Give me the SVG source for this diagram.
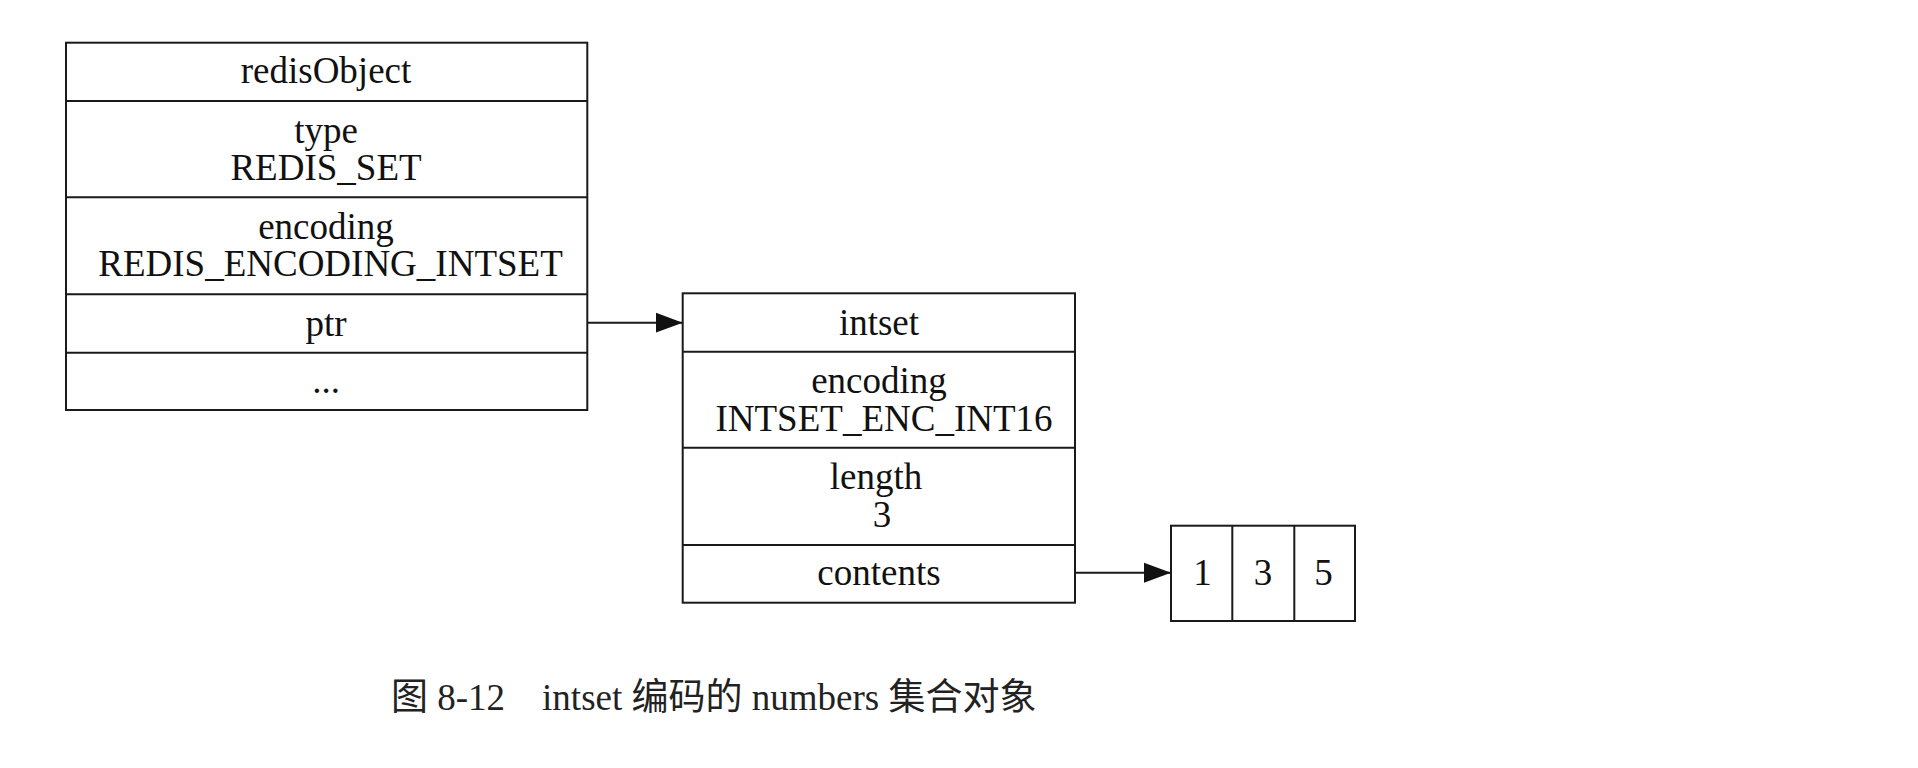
<svg xmlns="http://www.w3.org/2000/svg" width="1918" height="768" viewBox="0 0 1918 768">
<style>
.box{fill:#fff;stroke:#1a1a1a;stroke-width:2}
.div{stroke:#1a1a1a;stroke-width:2}
.t{font-family:"Liberation Serif","Noto Sans CJK SC",serif;font-size:37px;fill:#111;text-anchor:middle}
.edge{stroke:#1a1a1a;stroke-width:2;fill:none}
.cap{font-family:"Liberation Serif","Noto Sans CJK SC",serif;font-size:37px;fill:#222}
</style>
<defs>
<marker id="arr" markerUnits="userSpaceOnUse" markerWidth="28" markerHeight="22" refX="27" refY="10.5" orient="auto">
<path d="M0,0.5 L27,10.5 L0,20.5 z" fill="#111"/>
</marker>
</defs>
<rect width="1918" height="768" fill="#fff"/>
<g id="redisObject">
<rect class="box" x="66" y="42.7" width="521.3" height="367.3"/>
<line class="div" x1="66" y1="101" x2="587.3" y2="101"/>
<line class="div" x1="66" y1="197.3" x2="587.3" y2="197.3"/>
<line class="div" x1="66" y1="294.3" x2="587.3" y2="294.3"/>
<line class="div" x1="66" y1="352.7" x2="587.3" y2="352.7"/>
<text class="t" x="326" y="83.3">redisObject</text>
<text class="t" x="326" y="142.8">type</text>
<text class="t" x="326" y="180">REDIS_SET</text>
<text class="t" x="326" y="239">encoding</text>
<text class="t" x="330.5" y="276">REDIS_ENCODING_INTSET</text>
<text class="t" x="326" y="335.5">ptr</text>
<text class="t" x="326" y="393">...</text>
</g>
<g id="intset">
<rect class="box" x="682.7" y="293.3" width="392.3" height="309.4"/>
<line class="div" x1="682.7" y1="351.7" x2="1075" y2="351.7"/>
<line class="div" x1="682.7" y1="447.7" x2="1075" y2="447.7"/>
<line class="div" x1="682.7" y1="545" x2="1075" y2="545"/>
<text class="t" x="879" y="335">intset</text>
<text class="t" x="879" y="392.5">encoding</text>
<text class="t" x="884" y="431">INTSET_ENC_INT16</text>
<text class="t" x="876" y="489">length</text>
<text class="t" x="882" y="526.7">3</text>
<text class="t" x="879" y="585">contents</text>
</g>
<g id="contents">
<rect class="box" x="1171" y="525.7" width="184" height="95.3"/>
<line class="div" x1="1232.3" y1="525.7" x2="1232.3" y2="621"/>
<line class="div" x1="1294.3" y1="525.7" x2="1294.3" y2="621"/>
<text class="t" x="1202.5" y="585">1</text>
<text class="t" x="1263" y="585">3</text>
<text class="t" x="1323.5" y="585">5</text>
</g>
<g id="connectors">
<line class="edge" x1="587.3" y1="322.7" x2="682.7" y2="322.7" marker-end="url(#arr)"/>
<line class="edge" x1="1075" y1="572.7" x2="1171" y2="572.7" marker-end="url(#arr)"/>
</g>
<text class="cap" x="391" y="710">图 8-12　intset 编码的 numbers 集合对象</text>
</svg>
